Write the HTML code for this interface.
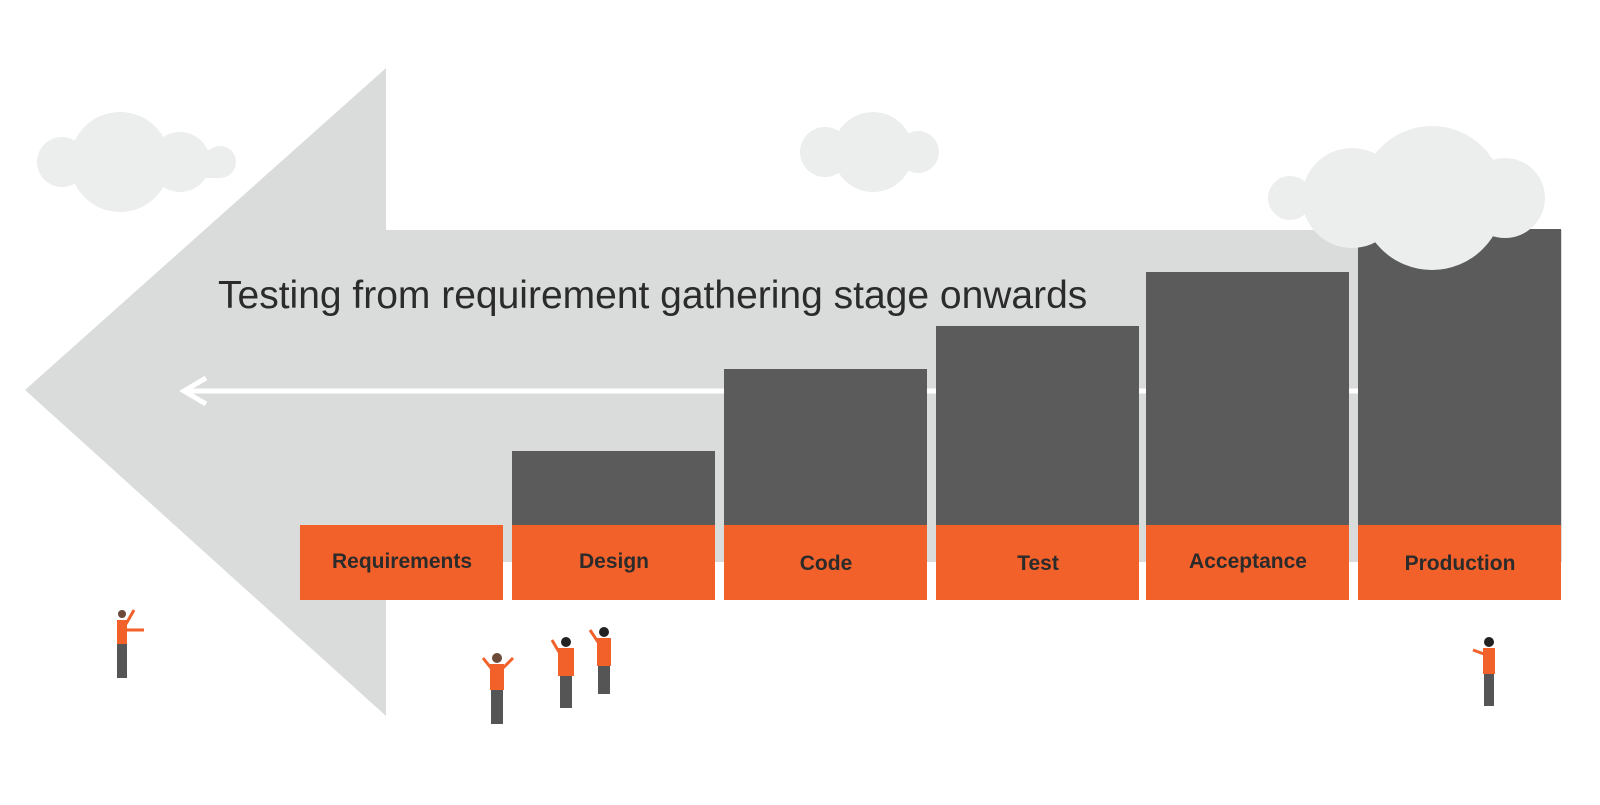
<!DOCTYPE html>
<html><head><style>
body{margin:0;background:#fff;width:1600px;height:800px;overflow:hidden;font-family:"Liberation Sans",sans-serif}
</style></head><body>
<svg width="1600" height="800" viewBox="0 0 1600 800" xmlns="http://www.w3.org/2000/svg">
<polygon points="25,390 386,68 386,230 1562,230 1562,562 386,562 386,716" fill="#dadcdb"/>
<line x1="185" y1="391" x2="1358" y2="391" stroke="#fff" stroke-width="5"/>
<polyline points="206,378 184,391 206,404" fill="none" stroke="#fff" stroke-width="5"/>
<text x="218" y="308" font-size="39" fill="#2b2b2b" font-family="Liberation Sans, sans-serif">Testing from requirement gathering stage onwards</text>
<g fill="#5b5b5b">
<rect x="512" y="451" width="203" height="80"/>
<rect x="724" y="369" width="203" height="160"/>
<rect x="936" y="326" width="203" height="200"/>
<rect x="1146" y="272" width="203" height="260"/>
<rect x="1358" y="229" width="203" height="300"/>
</g>
<g fill="#fff">
<rect x="503" y="562" width="9" height="40"/>
<rect x="715" y="562" width="9" height="40"/>
<rect x="927" y="562" width="9" height="40"/>
<rect x="1139" y="562" width="7" height="40"/>
<rect x="1349" y="562" width="9" height="40"/>
</g>
<g fill="#f2612a">
<rect x="300" y="525" width="203" height="75"/>
<rect x="512" y="525" width="203" height="75"/>
<rect x="724" y="525" width="203" height="75"/>
<rect x="936" y="525" width="203" height="75"/>
<rect x="1146" y="525" width="203" height="75"/>
<rect x="1358" y="525" width="203" height="75"/>
</g>
<g font-size="21" font-weight="bold" fill="#2b2b2b" text-anchor="middle" font-family="Liberation Sans, sans-serif">
<text x="402" y="568">Requirements</text>
<text x="614" y="568">Design</text>
<text x="826" y="570">Code</text>
<text x="1038" y="570">Test</text>
<text x="1248" y="568">Acceptance</text>
<text x="1460" y="570">Production</text>
</g>
<g fill="#eceded">
<circle cx="62" cy="162" r="25"/><circle cx="120" cy="162" r="50"/><circle cx="180" cy="162" r="30"/><circle cx="220" cy="162" r="16"/><rect x="62" y="150" width="158" height="28"/>
<circle cx="825" cy="152" r="25"/><circle cx="873" cy="152" r="40"/><circle cx="918" cy="152" r="21"/><rect x="825" y="140" width="93" height="25"/>
<circle cx="1290" cy="198" r="22"/><circle cx="1352" cy="198" r="50"/><circle cx="1432" cy="198" r="72"/><circle cx="1505" cy="198" r="40"/>
</g>
<g>
<g transform="translate(122,608)"><circle cx="0" cy="6" r="4" fill="#6b4a3a"/><rect x="-5" y="12" width="10" height="24" fill="#f2612a"/><line x1="4" y1="16" x2="12" y2="2" stroke="#f2612a" stroke-width="3"/><line x1="4" y1="22" x2="22" y2="22" stroke="#f2612a" stroke-width="3"/><rect x="-5" y="36" width="10" height="34" fill="#555"/></g>
<g transform="translate(497,652)"><circle cx="0" cy="6" r="5" fill="#6b4a3a"/><rect x="-7" y="12" width="14" height="26" fill="#f2612a"/><line x1="-6" y1="16" x2="-14" y2="6" stroke="#f2612a" stroke-width="3"/><line x1="6" y1="16" x2="16" y2="6" stroke="#f2612a" stroke-width="3"/><rect x="-6" y="38" width="12" height="34" fill="#555"/></g>
<g transform="translate(566,636)"><circle cx="0" cy="6" r="5" fill="#222"/><rect x="-8" y="12" width="16" height="28" fill="#f2612a"/><line x1="-7" y1="16" x2="-14" y2="4" stroke="#f2612a" stroke-width="3"/><rect x="-6" y="40" width="12" height="32" fill="#555"/></g>
<g transform="translate(604,626)"><circle cx="0" cy="6" r="5" fill="#222"/><rect x="-7" y="12" width="14" height="28" fill="#f2612a"/><line x1="-6" y1="16" x2="-14" y2="4" stroke="#f2612a" stroke-width="3"/><rect x="-6" y="40" width="12" height="28" fill="#555"/></g>
<g transform="translate(1489,636)"><circle cx="0" cy="6" r="5" fill="#222"/><rect x="-6" y="12" width="12" height="26" fill="#f2612a"/><line x1="-5" y1="18" x2="-16" y2="14" stroke="#f2612a" stroke-width="3"/><rect x="-5" y="38" width="10" height="32" fill="#555"/></g>
</g>
</svg>
</body></html>
